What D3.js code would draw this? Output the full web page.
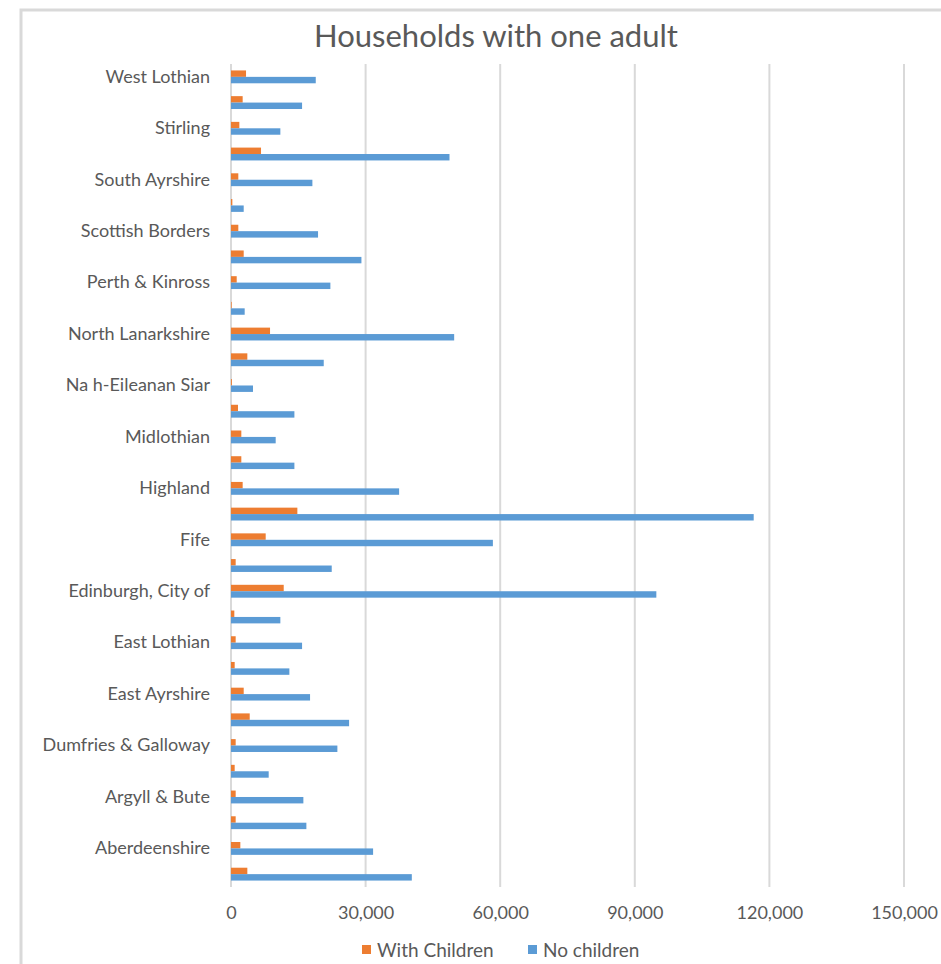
<!DOCTYPE html>
<html>
<head>
<meta charset="utf-8">
<script src="https://cdn.jsdelivr.net/npm/d3@7"></script>
<style>
  html, body { margin: 0; padding: 0; background: #ffffff; }
  svg { display: block; }
  text { font-family: Lato, "Open Sans", sans-serif; fill: #595959; }
</style>
</head>
<body>
<svg id="chart" width="941" height="964"></svg>
<script>
// Council areas, listed from the bottom of the chart upwards
const areas = [
  "Aberdeen City", "Aberdeenshire", "Angus", "Argyll & Bute", "Clackmannanshire",
  "Dumfries & Galloway", "Dundee City", "East Ayrshire", "East Dunbartonshire",
  "East Lothian", "East Renfrewshire", "Edinburgh, City of", "Falkirk", "Fife",
  "Glasgow City", "Highland", "Inverclyde", "Midlothian", "Moray",
  "Na h-Eileanan Siar", "North Ayrshire", "North Lanarkshire", "Orkney Islands",
  "Perth & Kinross", "Renfrewshire", "Scottish Borders", "Shetland Islands",
  "South Ayrshire", "South Lanarkshire", "Stirling", "West Dunbartonshire",
  "West Lothian"
];

// One-adult households with children
const withChildren = [
  3640, 2080, 1040, 1040, 820,
  1040, 4170, 2830, 820,
  1040, 740, 11750, 1040, 7730,
  14790, 2600, 2300, 2300, 1560,
  200, 3640, 8700, 150,
  1270, 2830, 1630, 300,
  1630, 6690, 1860, 2600,
  3350
];

// One-adult households without children
const noChildren = [
  40300, 31670, 16800, 16130, 8400,
  23710, 26320, 17620, 13010,
  15840, 11000, 94800, 22450, 58370,
  116500, 37470, 14130, 9960, 14130,
  4900, 20670, 49740, 3050,
  22150, 29070, 19400, 2830,
  18140, 48700, 11000, 15840,
  18890
];

const seriesNames = ["With Children", "No children"];
const seriesColors = ["#ED7D31", "#5B9BD5"];
const xTicks = [0, 30000, 60000, 90000, 120000, 150000];
const chartTitle = "Households with one adult";

const svg = d3.select("#chart");
const W = 941;

// chart area frame
svg.append("rect")
  .attr("x", 21).attr("y", 10)
  .attr("width", W + 20).attr("height", 1000)
  .attr("fill", "#ffffff")
  .attr("stroke", "#D9D9D9")
  .attr("stroke-width", 3);

const plot = { left: 231, right: 904, top: 64, bottom: 887 };

const x = d3.scaleLinear()
  .domain([0, 150000])
  .range([plot.left, plot.right]);

const y = d3.scaleBand()
  .domain(areas)
  .range([plot.bottom, plot.top])
  .paddingInner(0.5)
  .paddingOuter(0.25);

const ySeries = d3.scaleBand()
  .domain(seriesNames)
  .range([0, y.bandwidth()]);

// title
svg.append("text")
  .attr("x", 496).attr("y", 47)
  .attr("text-anchor", "middle")
  .style("font-size", "31px")
  .text(chartTitle);

// vertical gridlines
svg.append("g")
  .selectAll("line")
  .data(xTicks)
  .join("line")
  .attr("x1", d => x(d)).attr("x2", d => x(d))
  .attr("y1", plot.top).attr("y2", plot.bottom)
  .attr("stroke", "#D9D9D9")
  .attr("stroke-width", 2);

// bottom value axis (labels only)
const xAxis = svg.append("g")
  .attr("transform", `translate(0,${plot.bottom})`)
  .call(d3.axisBottom(x).tickValues(xTicks).tickSize(0).tickPadding(19)
    .tickFormat(d3.format(",")));
xAxis.select(".domain").remove();
xAxis.selectAll("text")
  .style("font-size", "18px")
  .style("font-family", "Lato, sans-serif")
  .attr("fill", "#595959");

// left category axis, every second label shown
const yAxis = svg.append("g")
  .attr("transform", `translate(${plot.left},0)`)
  .call(d3.axisLeft(y).tickSize(0).tickPadding(21)
    .tickFormat((d, i) => (i % 2 === 1 ? d : "")));
yAxis.select(".domain").remove();
yAxis.selectAll("text")
  .style("font-size", "18px")
  .style("font-family", "Lato, sans-serif")
  .attr("fill", "#595959");

// bars
const rows = areas.map((a, i) => ({ area: a, values: [withChildren[i], noChildren[i]] }));
const groups = svg.append("g")
  .selectAll("g")
  .data(rows)
  .join("g")
  .attr("transform", d => `translate(0,${y(d.area)})`);

groups.selectAll("rect")
  .data(d => d.values.map((v, j) => ({ v, s: seriesNames[j], c: seriesColors[j] })))
  .join("rect")
  .attr("x", x(0))
  .attr("y", d => ySeries(d.s))
  .attr("width", d => x(d.v) - x(0))
  .attr("height", ySeries.bandwidth())
  .attr("fill", d => d.c);

// legend
const legendItems = [
  { name: seriesNames[0], color: seriesColors[0], x: 362 },
  { name: seriesNames[1], color: seriesColors[1], x: 528 }
];
const lg = svg.append("g")
  .selectAll("g")
  .data(legendItems)
  .join("g")
  .attr("transform", d => `translate(${d.x},950)`);
lg.append("rect")
  .attr("x", 0).attr("y", -5)
  .attr("width", 9).attr("height", 9)
  .attr("fill", d => d.color);
lg.append("text")
  .attr("x", 15).attr("y", 0)
  .attr("dy", "0.35em")
  .style("font-size", "19px")
  .text(d => d.name);
</script>
</body>
</html>
